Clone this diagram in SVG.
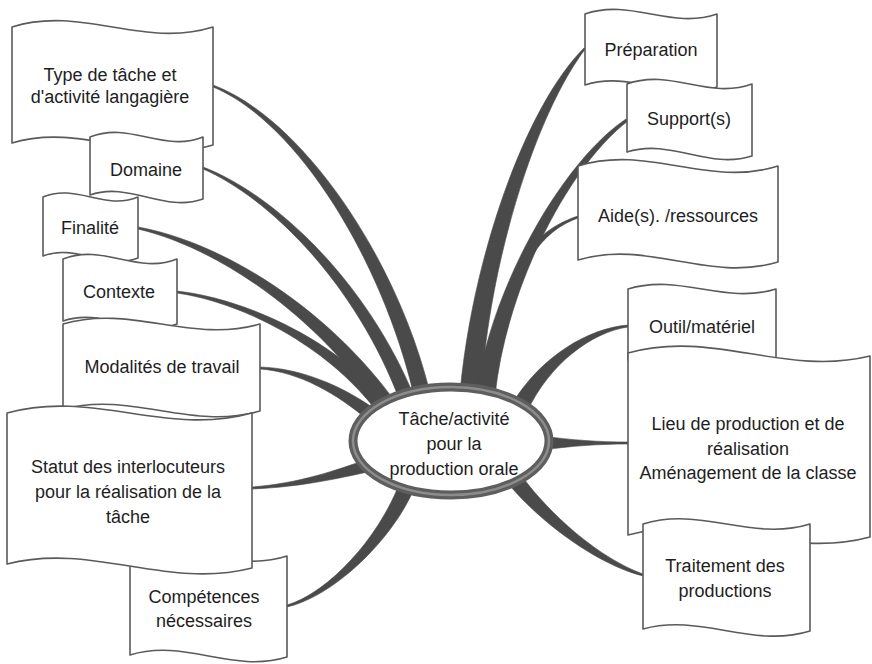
<svg xmlns="http://www.w3.org/2000/svg" width="872" height="664" viewBox="0 0 872 664">
<style>
.n{fill:#fff;stroke:#5a5a5a;stroke-width:1.6;stroke-linejoin:round}
.t{font-family:"Liberation Sans",Arial,sans-serif;font-size:18px;fill:#1e1e1e;text-anchor:middle}
.c{fill:#4a4a4a;stroke:#4a4a4a;stroke-width:0.6;stroke-linejoin:round}
</style>
<rect width="872" height="664" fill="#fff"/>
<g id="connectors">
<path class="c" d="M213,85 C302,118 397,258 430,393 L414,396 C383,262 298,122 213,87 Z"/>
<path class="c" d="M203,167 C272,193 365,278 414,396 L400,401 C355,282 268,197 203,169 Z"/>
<path class="c" d="M138,227 C221,242 325,306 394,400 L381,410 C315,314 218,248 138,229 Z"/>
<path class="c" d="M177,291 C241,298 334,337 391,406 L379,414 C326,343 239,302 177,293 Z"/>
<path class="c" d="M260,367 C300,368 343,386 376,410 L368,420 C337,394 300,372 260,369 Z"/>
<path class="c" d="M252,487 C300,483 334,471 368,459 L372,471 C336,479 300,487 252,489 Z"/>
<path class="c" d="M287,605 C328,593 379,538 400,482 L414,489 C391,542 332,597 287,607 Z"/>
<path class="c" d="M584,48 C525,107 472,259 460,393 L481,394 C489,262 536,113 586,48 Z"/>
<path class="c" d="M626,119 C567,158 493,279 476,394 L495,396 C507,281 573,162 628,121 Z"/>
<path class="c" d="M578,216 C554,224 533,238 519,267 L525,270 C537,242 556,226 578,218 Z"/>
<path class="c" d="M628,325 C589,328 541,356 512,404 L527,412 C549,364 592,332 628,327 Z"/>
<path class="c" d="M628,442 C600,442 570,440 543,436 L543,450 C570,446 600,444 628,444 Z"/>
<path class="c" d="M643,574 C601,559 550,516 518,471 L506,481 C541,524 599,565 643,576 Z"/>
</g>
<g id="n-type">
<path class="n" d="M12,27 C82,5 143,49 213,27 L213,145 C143,166 82,122 12,143 Z"/>
<text class="t" x="110" y="81">Type de tâche et</text>
<text class="t" x="110" y="103">d'activité langagière</text>
</g>
<g id="n-domaine">
<path class="n" d="M90,137 C129.5,121 163.5,153 203,137 L203,199 C163.5,213 129.5,181 90,195 Z"/>
<text class="t" x="146" y="176">Domaine</text>
</g>
<g id="n-finalite">
<path class="n" d="M43,197 C76,183 105,211 138,197 L138,258 C105,271 76,243 43,256 Z"/>
<text class="t" x="90" y="234">Finalité</text>
</g>
<g id="n-contexte">
<path class="n" d="M63,259 C103,243 137,275 177,259 L177,324 C137,339 103,307 63,321 Z"/>
<text class="t" x="119" y="298">Contexte</text>
</g>
<g id="n-modalites">
<path class="n" d="M63,324 C132,304 191,344 260,324 L260,411 C191,431 132,391 63,409 Z"/>
<text class="t" x="162" y="373">Modalités de travail</text>
</g>
<g id="n-competences">
<path class="n" d="M130,556 C185,538 232,574 287,556 L287,657 C232,674 185,638 130,655 Z"/>
<text class="t" x="204" y="603">Compétences</text>
<text class="t" x="204" y="627">nécessaires</text>
</g>
<g id="n-statut">
<path class="n" d="M7,413 C93,389 166,437 252,413 L252,568 C166,590 93,542 7,564 Z"/>
<text class="t" x="128" y="473">Statut des interlocuteurs</text>
<text class="t" x="128" y="498">pour la réalisation de la</text>
<text class="t" x="128" y="523">tâche</text>
</g>
<g id="n-preparation">
<path class="n" d="M585,14 C631,-2 671,30 717,14 L717,87 C671,102 631,70 585,85 Z"/>
<text class="t" x="651" y="56">Préparation</text>
</g>
<g id="n-support">
<path class="n" d="M627,84 C671,68 708,100 752,84 L752,156 C708,170 671,138 627,152 Z"/>
<text class="t" x="689" y="125">Support(s)</text>
</g>
<g id="n-aide">
<path class="n" d="M578,166 C648,144 708,188 778,166 L778,262 C708,283 648,239 578,260 Z"/>
<text class="t" x="678" y="222">Aide(s). /ressources</text>
</g>
<g id="n-outil">
<path class="n" d="M628,289 C680,273 724,305 776,289 L776,362 C724,377 680,345 628,360 Z"/>
<text class="t" x="702" y="333">Outil/matériel</text>
</g>
<g id="n-lieu">
<path class="n" d="M628,353 C713,329 785,377 870,356 L870,537 C785,560 713,512 628,535 Z"/>
<text class="t" x="748" y="430">Lieu de production et de</text>
<text class="t" x="748" y="455">réalisation</text>
<text class="t" x="748" y="479">Aménagement de la classe</text>
</g>
<g id="n-traitement">
<path class="n" d="M643,524 C701,506 752,542 810,524 L810,631 C752,649 701,613 643,629 Z"/>
<text class="t" x="725" y="572">Traitement des</text>
<text class="t" x="725" y="597">productions</text>
</g>
<g id="n-center">
<ellipse cx="451" cy="441" rx="98" ry="54" fill="#fff" stroke="#5e5e5e" stroke-width="9"/>
<ellipse cx="451" cy="441" rx="98" ry="54" fill="none" stroke="#8c8c8c" stroke-width="2.5"/>
<text class="t" x="454" y="425">Tâche/activité</text>
<text class="t" x="454" y="450">pour la</text>
<text class="t" x="454" y="475">production orale</text>
</g>
</svg>
